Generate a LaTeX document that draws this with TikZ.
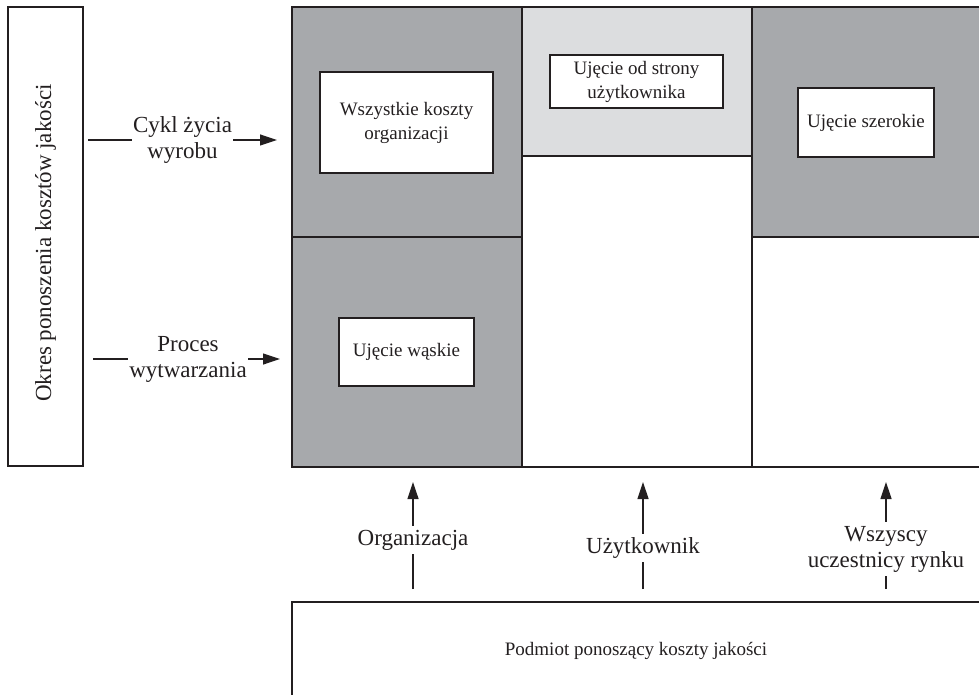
\documentclass[tikz,border=0pt]{standalone}
\usepackage{fontspec}
\setmainfont{Liberation Serif}
\usetikzlibrary{arrows.meta}
\definecolor{dgrey}{HTML}{A7A9AC}
\definecolor{lgrey}{HTML}{DCDDDF}
\definecolor{ink}{HTML}{231F20}
\begin{document}
\begin{tikzpicture}[x=1pt,y=-1pt,line width=1.2pt,
  big/.style={font=\fontsize{23}{26}\selectfont,align=center,text=ink},
  small/.style={font=\fontsize{19}{24}\selectfont,align=center,text=ink},
  inbox/.style={draw=ink,fill=white,small,inner sep=0pt},
  lbl/.style={big,fill=white,inner xsep=1pt,inner ysep=4pt},
  arr/.style={draw=ink,-{Triangle[length=17pt,width=11pt]}},
  cell/.style={draw=ink}]
\clip (0,0) rectangle (979,695);
\fill[white] (0,0) rectangle (979,695);
% grid cells
\draw[cell,fill=dgrey] (292,7) rectangle (522,237);
\draw[cell,fill=dgrey] (292,237) rectangle (522,467);
\draw[cell,fill=lgrey] (522,7) rectangle (752,156);
\draw[cell,fill=white] (522,156) rectangle (752,467);
\draw[cell,fill=dgrey] (752,7) rectangle (995,237);
\draw[cell,fill=white] (752,237) rectangle (995,467);
% inner boxes
\node[inbox,minimum width=173pt,minimum height=101pt] (all) at (406.5,122.5) {Wszystkie koszty\\organizacji};
\node[inbox,minimum width=173pt,minimum height=53pt] (user) at (636.5,81.5) {Ujęcie od strony\\użytkownika};
\node[inbox,minimum width=136pt,minimum height=69pt] (wide) at (866,122.5) {Ujęcie szerokie};
\node[inbox,minimum width=135pt,minimum height=68pt] (narrow) at (406.5,352) {Ujęcie wąskie};
% left box
\node[draw=ink,minimum width=75pt,minimum height=459pt,inner sep=0pt] (period) at (45.5,236.5) {};
\node[big,rotate=90] (periodtxt) at (45.5,243) {Okres ponoszenia kosztów jakości};
% horizontal arrows
\coordinate (c1s) at (88,140);
\coordinate (c1e) at (277,140);
\draw[arr] (c1s) -- (c1e);
\node[lbl] (c1l) at (182.5,140) {Cykl życia\\wyrobu};
\coordinate (c2s) at (93,359);
\coordinate (c2e) at (280,359);
\draw[arr] (c2s) -- (c2e);
\node[lbl] (c2l) at (188,359) {Proces\\wytwarzania};
% bottom box
\draw[cell,fill=white] (292,602) rectangle (995,720);
\node[small] (subject) at (636,651) {Podmiot ponoszący koszty jakości};
% vertical arrows
\coordinate (v1s) at (413,589);
\coordinate (v1e) at (413,482);
\draw[arr] (v1s) -- (v1e);
\node[lbl] (v1l) at (413,540) {Organizacja};
\coordinate (v2s) at (643,589);
\coordinate (v2e) at (643,482);
\draw[arr] (v2s) -- (v2e);
\node[lbl] (v2l) at (643,548) {Użytkownik};
\coordinate (v3s) at (886,589);
\coordinate (v3e) at (886,482);
\draw[arr] (v3s) -- (v3e);
\node[lbl] (v3l) at (886,549) {Wszyscy\\uczestnicy rynku};
\end{tikzpicture}
\end{document}
